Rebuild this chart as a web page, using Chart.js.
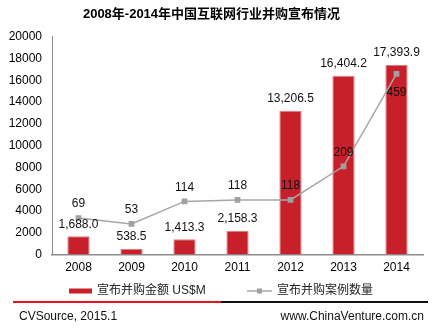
<!DOCTYPE html>
<html>
<head>
<meta charset="utf-8">
<script src="https://cdn.jsdelivr.net/npm/chart.js@4/dist/chart.umd.min.js"></script>
<style>
  html, body { margin: 0; padding: 0; background: #fff; }
</style>
</head>
<body>
<canvas id="chart" width="437" height="333"></canvas>
<script>
// data
const years = ['2008', '2009', '2010', '2011', '2012', '2013', '2014'];
const dealValue = [1688.0, 538.5, 1413.3, 2158.3, 13206.5, 16404.2, 17393.9]; // US$M
const dealCount = [69, 53, 114, 118, 118, 209, 459];
const seriesNames = ['宣布并购金额 US$M', '宣布并购案例数量'];
const titleText = '2008年-2014年中国互联网行业并购宣布情况';
const sourceText = 'CVSource, 2015.1';
const siteText = 'www.ChinaVenture.com.cn';

const FONT = 'Arial, "Liberation Sans", "Noto Sans CJK SC", sans-serif';
const RED = '#C8202B';
const GREY = '#A6A6A6';

function fmt(v) {
    return v.toLocaleString('en-US', { minimumFractionDigits: 1, maximumFractionDigits: 1 });
}

// value labels, legend and footer
const extras = {
    id: 'extras',
    afterDatasetsDraw(chart) {
        const ctx = chart.ctx;
        ctx.save();
        ctx.font = '12px ' + FONT;
        ctx.fillStyle = '#111';
        ctx.textAlign = 'center';
        ctx.textBaseline = 'middle';
        chart.getDatasetMeta(0).data.forEach((bar, i) => {
            ctx.fillText(fmt(dealValue[i]), bar.x, bar.y - 12);
        });
        const pts = chart.getDatasetMeta(1).data;
        pts.forEach((p, i) => {
            const below = i === pts.length - 1; // last one sits under its point
            ctx.fillText(String(dealCount[i]), p.x, below ? p.y + 19 : p.y - 14);
        });
        ctx.restore();
    },
    afterDraw(chart) {
        const ctx = chart.ctx;
        const ly = 291;
        ctx.save();
        ctx.font = '12px ' + FONT;
        ctx.fillStyle = '#222';
        ctx.textBaseline = 'middle';
        ctx.textAlign = 'left';

        // legend: bar
        ctx.fillStyle = RED;
        ctx.fillRect(69, ly - 2.5, 23, 5);
        ctx.fillStyle = '#222';
        ctx.fillText(seriesNames[0], 97, ly);

        // legend: line
        ctx.strokeStyle = GREY;
        ctx.lineWidth = 1.5;
        ctx.beginPath();
        ctx.moveTo(247, ly);
        ctx.lineTo(272, ly);
        ctx.stroke();
        ctx.fillStyle = '#A0A0A0';
        ctx.fillRect(257, ly - 2.5, 5, 5);
        ctx.fillStyle = '#222';
        ctx.fillText(seriesNames[1], 277, ly);

        // footer rule
        ctx.lineWidth = 2;
        ctx.strokeStyle = '#E8141B';
        ctx.beginPath();
        ctx.moveTo(13, 302);
        ctx.lineTo(221, 302);
        ctx.stroke();
        ctx.strokeStyle = '#111';
        ctx.beginPath();
        ctx.moveTo(221, 302);
        ctx.lineTo(428, 302);
        ctx.stroke();

        ctx.fillStyle = '#111';
        ctx.fillText(sourceText, 19, 317);
        ctx.textAlign = 'right';
        ctx.fillText(siteText, 424, 317);
        ctx.restore();
    }
};

new Chart(document.getElementById('chart').getContext('2d'), {
    data: {
        labels: years,
        datasets: [
            {
                type: 'bar',
                label: seriesNames[0],
                data: dealValue,
                backgroundColor: RED,
                borderColor: '#E07A80',
                borderWidth: 1,
                barPercentage: 0.42,
                categoryPercentage: 1,
                yAxisID: 'y',
                order: 2
            },
            {
                type: 'line',
                label: seriesNames[1],
                data: dealCount,
                borderColor: GREY,
                borderWidth: 1.5,
                pointStyle: 'rect',
                pointRadius: 3,
                pointBackgroundColor: '#A0A0A0',
                pointBorderColor: '#A0A0A0',
                tension: 0,
                yAxisID: 'y1',
                order: 1
            }
        ]
    },
    options: {
        responsive: false,
        animation: false,
        devicePixelRatio: 1,
        layout: { padding: { left: 0, right: 14, top: 0, bottom: 52 } },
        plugins: {
            legend: { display: false },
            tooltip: { enabled: false },
            title: {
                display: true,
                text: titleText,
                color: '#000',
                font: { family: FONT, size: 13, weight: 'bold' },
                padding: { top: 7, bottom: 14 }
            }
        },
        scales: {
            x: {
                grid: { display: false, drawTicks: false },
                border: { display: true, color: '#8C8C8C', width: 1.5 },
                ticks: { color: '#000', padding: 6, font: { family: FONT, size: 12 } }
            },
            y: {
                min: 0,
                max: 20000,
                grid: { display: false, drawTicks: false },
                border: { display: true, color: '#8C8C8C', width: 1 },
                ticks: {
                    stepSize: 2000,
                    color: '#000',
                    padding: 10,
                    font: { family: FONT, size: 12 },
                    callback: v => String(v)
                },
                afterFit: s => { s.width = 52; }
            },
            y1: {
                display: false,
                min: -30,
                max: 560
            }
        }
    },
    plugins: [extras]
});
</script>
</body>
</html>
